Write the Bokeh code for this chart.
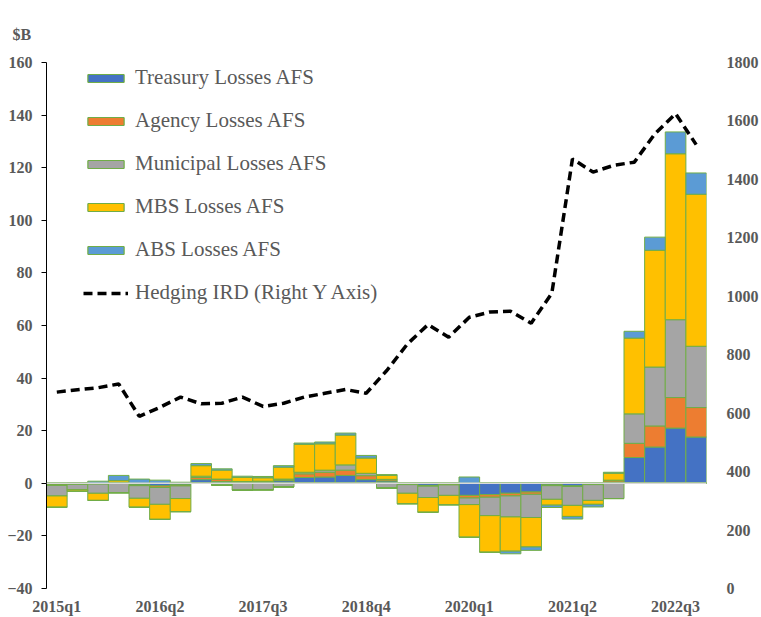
import numpy as np
from bokeh.plotting import figure
from bokeh.models import (Range1d, LinearAxis, FixedTicker, Span, Legend, LegendItem)
from bokeh.embed import file_html
from bokeh.resources import INLINE

quarters = ["2015q1", "2015q2", "2015q3", "2015q4", "2016q1", "2016q2", "2016q3", "2016q4",
            "2017q1", "2017q2", "2017q3", "2017q4", "2018q1", "2018q2", "2018q3", "2018q4",
            "2019q1", "2019q2", "2019q3", "2019q4", "2020q1", "2020q2", "2020q3", "2020q4",
            "2021q1", "2021q2", "2021q3", "2021q4", "2022q1", "2022q2", "2022q3", "2022q4"]

treasury = [-0.5, -0.2, -0.2, 0.0, -0.6, -1.0, -0.6, 1.4, 0.7, 0.4, 0.5, 1.0,
            2.2, 2.4, 3.0, 1.4, 0.9, -0.3, -0.8, -0.3, -4.6, -4.3, -3.8, -3.3,
            -0.6, -1.0, -0.3, 0.5, 9.8, 13.8, 21.0, 17.6]
agency = [-0.3, -0.2, -0.1, 0.3, -0.3, -0.6, -0.4, 0.8, 0.9, 0.3, 0.3, 0.6,
          1.4, 1.8, 2.0, 1.5, 0.6, -0.2, -0.3, -0.3, -1.0, -1.0, -1.0, -0.9,
          -0.3, -0.2, -0.2, 0.7, 5.4, 8.0, 11.6, 11.2]
municipal = [-4.0, -2.0, -3.5, -3.6, -4.8, -6.4, -4.8, 0.5, -0.7, -2.6, -2.5, -1.4,
             0.6, 0.8, 2.0, 0.9, -1.8, -3.3, -4.3, -4.0, -2.5, -7.0, -8.0, -8.8,
             -5.2, -7.2, -6.0, -5.8, 11.2, 22.4, 29.6, 23.3]
mbs = [-4.3, -0.6, -2.7, 0.7, -3.4, -5.7, -5.0, 4.0, 3.4, 1.5, 1.3, 4.5,
       10.6, 10.0, 11.3, 5.8, 1.5, -4.0, -5.6, -3.6, -12.4, -13.9, -13.0, -11.2,
       -2.2, -4.2, -1.5, 2.6, 28.8, 44.4, 63.1, 57.8]
abs_ = [0.0, 0.3, 0.8, 2.0, 1.6, 1.2, 0.4, 0.8, 0.5, 0.5, 0.5, 0.6,
        0.5, 0.7, 0.8, 1.0, 0.3, 0.0, 0.0, 0.0, 2.4, 0.0, -1.0, -1.3,
        -0.9, -1.0, -1.0, 0.4, 2.6, 5.0, 8.3, 8.1]
hedging_ird = [672, 680, 687, 700, 589, 620, 655, 632, 634, 655, 623, 634,
               655, 668, 681, 668, 746, 837, 903, 860, 928, 946, 949, 908,
               1010, 1470, 1425, 1448, 1459, 1556, 1625, 1519]

series_names = ["Treasury Losses AFS", "Agency Losses AFS", "Municipal Losses AFS",
                "MBS Losses AFS", "ABS Losses AFS"]
series_values = [treasury, agency, municipal, mbs, abs_]
series_colors = ["#4472C4", "#ED7D31", "#A5A5A5", "#FFC000", "#5B9BD5"]
left_ticks = list(range(-40, 161, 20))
right_ticks = list(range(0, 1801, 200))
label_every = 5

GRAY = "#595959"
SERIF = "Liberation Serif"

x = np.arange(len(quarters))

p = figure(width=761, height=617, output_backend="svg", toolbar_location=None,
           x_range=Range1d(-0.5, len(quarters) - 0.5), y_range=Range1d(-40, 160),
           min_border_left=46, min_border_right=48, min_border_top=62, min_border_bottom=29,
           title="$B")
p.extra_y_ranges = {"right": Range1d(0, 1800)}
p.outline_line_color = None
p.grid.grid_line_color = None
p.background_fill_color = "white"
p.border_fill_color = "white"

p.title.text_font = SERIF
p.title.text_font_style = "bold"
p.title.text_font_size = "16px"
p.title.text_color = GRAY
p.title.align = "left"
p.title.offset = -34
p.title.standoff = 40

# zero line
p.add_layout(Span(location=0, dimension="width", line_color="#D9D9D9", line_width=1.5))

pos_base = np.zeros(len(quarters))
neg_base = np.zeros(len(quarters))
legend_items = []
for name, vals, col in zip(series_names, series_values, series_colors):
    v = np.array(vals, dtype=float)
    pos = np.where(v > 0, v, 0.0)
    neg = np.where(v < 0, v, 0.0)
    r1 = p.vbar(x=x, width=1.0, bottom=pos_base.copy(), top=pos_base + pos,
                fill_color=col, line_color="#70AD47", line_width=1)
    r2 = p.vbar(x=x, width=1.0, top=neg_base.copy(), bottom=neg_base + neg,
                fill_color=col, line_color="#70AD47", line_width=1)
    pos_base = pos_base + pos
    neg_base = neg_base + neg
    legend_items.append(LegendItem(label=name, renderers=[r1, r2]))

rl = p.line(x, hedging_ird, y_range_name="right", line_color="black", line_width=3.5,
            line_dash="9 5")
legend_items.append(LegendItem(label="Hedging IRD (Right Y Axis)", renderers=[rl]))

legend = Legend(items=legend_items, location=(37, 283), orientation="vertical",
                label_text_font=SERIF, label_text_font_size="21px", label_text_color=GRAY,
                glyph_width=45, glyph_height=10, label_height=25, spacing=18,
                padding=0, margin=0, border_line_alpha=0, background_fill_alpha=0,
                label_standoff=7)
p.add_layout(legend, "center")

# left axis
la = p.yaxis[0]
la.ticker = FixedTicker(ticks=left_ticks)
la.axis_line_color = "black"
la.major_tick_line_color = "black"
la.major_tick_out = 5
la.major_tick_in = 0
la.minor_tick_line_color = None
la.major_label_text_font = SERIF
la.major_label_text_font_style = "bold"
la.major_label_text_font_size = "16px"
la.major_label_text_color = GRAY
la.major_label_standoff = 9

# right axis
ra = LinearAxis(y_range_name="right", ticker=FixedTicker(ticks=right_ticks))
ra.axis_line_color = None
ra.major_tick_line_color = None
ra.minor_tick_line_color = None
ra.major_label_text_font = SERIF
ra.major_label_text_font_style = "bold"
ra.major_label_text_font_size = "16px"
ra.major_label_text_color = GRAY
ra.major_label_standoff = 14
p.add_layout(ra, "right")

# x axis
xa = p.xaxis[0]
xt = list(range(0, len(quarters), label_every))
xa.ticker = FixedTicker(ticks=xt)
xa.major_label_overrides = {i: quarters[i] for i in xt}
xa.axis_line_color = None
xa.major_tick_line_color = None
xa.minor_tick_line_color = None
xa.major_label_text_font = SERIF
xa.major_label_text_font_style = "bold"
xa.major_label_text_font_size = "16px"
xa.major_label_text_color = GRAY
xa.major_label_standoff = 3

open("out.html", "w").write(file_html(p, INLINE))
